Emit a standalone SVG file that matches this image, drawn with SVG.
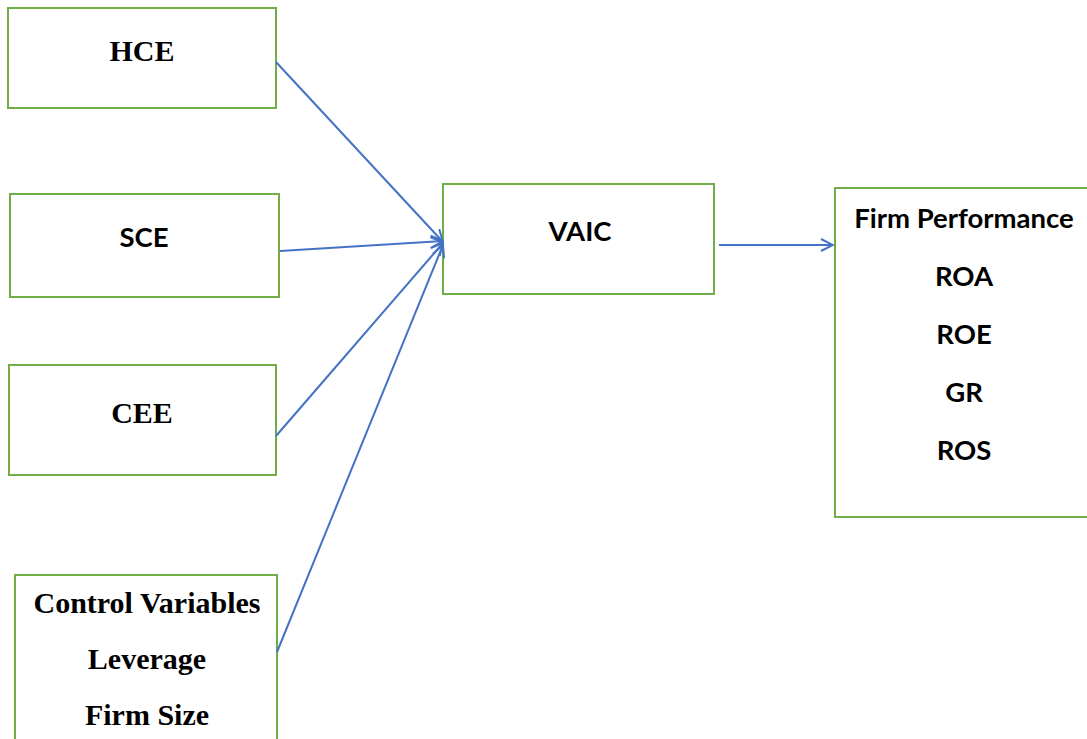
<svg xmlns="http://www.w3.org/2000/svg" width="1087" height="739" viewBox="0 0 1087 739">
<style>
.box{fill:#fff;stroke:#70AD47;stroke-width:2}
.ser{font-family:"Liberation Serif","Times New Roman",serif;font-weight:bold;font-size:30px;fill:#000;text-anchor:middle}
.san{font-family:Lato,"Open Sans",sans-serif;font-weight:bold;font-size:27.5px;fill:#000;text-anchor:middle}
.con{stroke:#4472C4;stroke-width:2;fill:none;marker-end:url(#ah)}
</style>
<defs>
<marker id="ah" viewBox="0 0 14 14" refX="13" refY="7" markerWidth="14" markerHeight="14" markerUnits="userSpaceOnUse" orient="auto">
<path d="M1,1 L13,7 L1,13" fill="none" stroke="#4472C4" stroke-width="2"/>
</marker>
</defs>
<g id="hce"><rect class="box" x="8" y="8" width="268" height="100"/><text class="ser" x="142" y="61">HCE</text></g>
<g id="sce"><rect class="box" x="10" y="194" width="269" height="103"/><text class="san" x="144" y="247">SCE</text></g>
<g id="cee"><rect class="box" x="9" y="365" width="267" height="110"/><text class="ser" x="142" y="423">CEE</text></g>
<g id="control"><rect class="box" x="15" y="575" width="262" height="170"/><text class="ser" x="147" y="613">Control Variables</text><text class="ser" x="147" y="669">Leverage</text><text class="ser" x="147" y="725">Firm Size</text></g>
<g id="vaic"><rect class="box" x="443" y="184" width="271" height="110"/><text class="san" x="580" y="241">VAIC</text></g>
<g id="fp"><rect class="box" x="835" y="188" width="260" height="329"/><text class="san" x="964" y="228">Firm Performance</text><text class="san" x="964" y="286">ROA</text><text class="san" x="964" y="344">ROE</text><text class="san" x="964" y="402">GR</text><text class="san" x="964" y="460">ROS</text></g>
<g id="connectors">
<line class="con" x1="276" y1="62" x2="443" y2="242"/>
<line class="con" x1="280" y1="251" x2="443" y2="241"/>
<line class="con" x1="276" y1="436" x2="443" y2="243"/>
<line class="con" x1="277" y1="652" x2="443" y2="245"/>
<line class="con" x1="719" y1="245" x2="833" y2="245"/>
</g>
</svg>
